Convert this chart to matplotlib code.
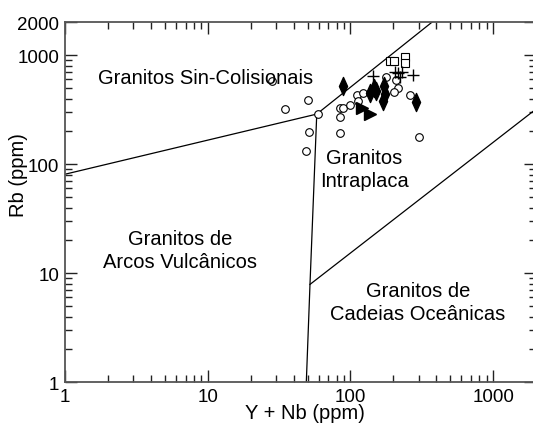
import matplotlib
matplotlib.use("Agg")
import matplotlib.pyplot as plt
from matplotlib.path import Path
from matplotlib.ticker import FixedLocator, FixedFormatter, LogLocator, NullFormatter

plt.rcParams['font.family'] = ['Liberation Sans', 'DejaVu Sans']

# Pearce et al. (1984) field boundaries, Y+Nb vs Rb (ppm)
vag_syn_x = [1, 58]
vag_syn_y = [81, 288]
syn_wpg_x = [58, 372]
syn_wpg_y = [288, 2000]
vag_wpg_x = [58, 52, 49]
vag_wpg_y = [288, 7.9, 1]
org_wpg_x = [52, 2000]
org_wpg_y = [7.9, 320]

# samples
circ_x = [28, 35, 50, 59, 51, 49, 84, 88, 85, 85, 99, 111, 112, 122, 177, 208, 214, 202, 261, 301]
circ_y = [575, 321, 388, 288, 199, 131, 325, 325, 272, 193, 351, 431, 382, 452, 626, 591, 500, 462, 431, 176]
diam_x = [89, 146, 137, 172, 175, 168, 288, 150]
diam_y = [525, 500, 450, 525, 440, 382, 369, 470]
tri_x = [120, 137]
tri_y = [325, 288]
plus_x = [143, 205, 215, 222, 230, 273]
plus_y = [640, 705, 686, 630, 700, 657]
sq_x = [189, 202, 242, 242]
sq_y = [878, 878, 968, 841]

fig = plt.figure(figsize=(5.33, 4.27), dpi=100)
ax = fig.add_axes([65.3 / 533, 43.7 / 427, 470.7 / 533, 360 / 427])
ax.set_xscale('log')
ax.set_yscale('log')
ax.set_xlim(1, 2000)
ax.set_ylim(1, 2000)

for xs, ys in [(vag_syn_x, vag_syn_y), (syn_wpg_x, syn_wpg_y),
               (vag_wpg_x, vag_wpg_y), (org_wpg_x, org_wpg_y)]:
    ax.plot(xs, ys, color='black', lw=0.9)

thin_diamond = Path([(0, 1), (0.45, 0), (0, -1), (-0.45, 0), (0, 1)],
                    [Path.MOVETO, Path.LINETO, Path.LINETO, Path.LINETO, Path.CLOSEPOLY])

ax.plot(circ_x, circ_y, 'o', ms=5.5, mfc='white', mec='black', mew=0.8, ls='none')
ax.plot(sq_x, sq_y, 's', ms=6, mfc='white', mec='black', mew=0.8, ls='none')
ax.plot(plus_x, plus_y, '+', ms=8, color='black', mew=1.0, ls='none')
ax.plot(diam_x, diam_y, marker=thin_diamond, ms=13, color='black', ls='none')
ax.plot(tri_x, tri_y, '>', ms=9, color='black', ls='none')

fs = 14.5
ax.text(9.6, 630, 'Granitos Sin-Colisionais', fontsize=fs, ha='center', va='center')
ax.text(125, 90, 'Granitos\nIntraplaca', fontsize=fs, ha='center', va='center', linespacing=1.25)
ax.text(6.4, 16.3, 'Granitos de\nArcos Vulcânicos', fontsize=fs, ha='center', va='center', linespacing=1.25)
ax.text(298, 5.46, 'Granitos de\nCadeias Oceânicas', fontsize=fs, ha='center', va='center', linespacing=1.25)

ax.xaxis.set_major_locator(FixedLocator([1, 10, 100, 1000]))
ax.xaxis.set_major_formatter(FixedFormatter(['1', '10', '100', '1000']))
ax.yaxis.set_major_locator(FixedLocator([1, 10, 100, 1000, 2000]))
ax.yaxis.set_major_formatter(FixedFormatter(['1', '10', '100', '1000', '2000']))
for axis in (ax.xaxis, ax.yaxis):
    axis.set_minor_locator(LogLocator(base=10, subs=range(2, 10)))
    axis.set_minor_formatter(NullFormatter())

ax.tick_params(which='both', direction='in', top=True, right=True, width=1.0, color='#222222')
ax.tick_params(which='major', length=8.6, labelsize=13.5)
ax.tick_params(which='minor', length=4.7)
ax.tick_params(axis='y', which='major', pad=4.5)
ax.tick_params(axis='x', which='major', pad=4)

for s in ax.spines.values():
    s.set_color('#555555')
    s.set_linewidth(1.3)

ax.set_xlabel('Y + Nb (ppm)', fontsize=fs, va='center')
ax.set_ylabel('Rb (ppm)', fontsize=fs, va='center')
ax.xaxis.set_label_coords(0.51, -0.085)
ax.yaxis.set_label_coords(-0.1, 0.579)

fig.savefig('out.png', dpi=100)
